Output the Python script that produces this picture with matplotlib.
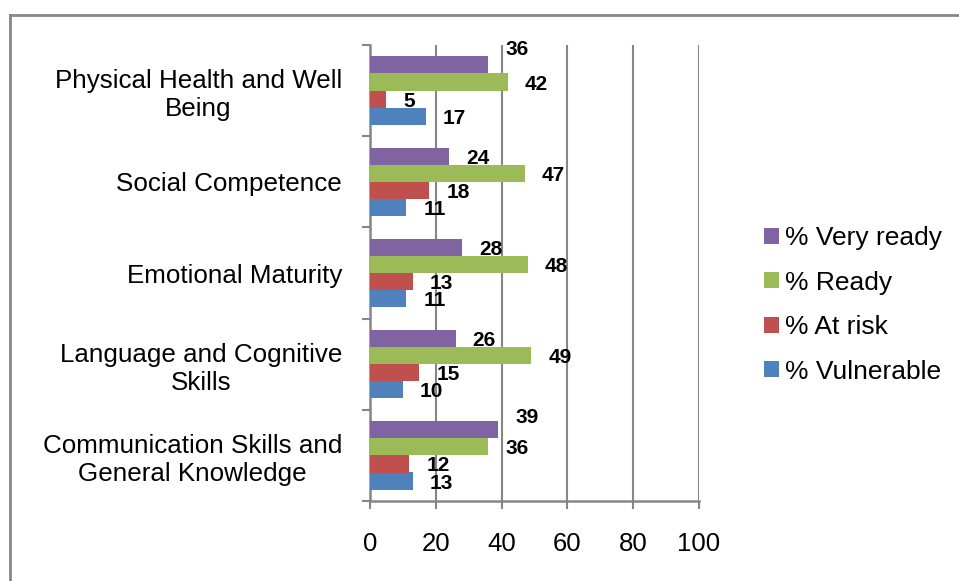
import matplotlib
matplotlib.use("Agg")
import matplotlib.pyplot as plt
from matplotlib.lines import Line2D
import numpy as np

plt.rcParams['font.family'] = ['Liberation Sans', 'DejaVu Sans']

# ---- data ----
categories = ["Communication Skills and\nGeneral Knowledge",
              "Language and Cognitive\nSkills",
              "Emotional Maturity",
              "Social Competence",
              "Physical Health and Well\nBeing"]
series_names = ["% Vulnerable", "% At risk", "% Ready", "% Very ready"]
vulnerable = [13, 10, 11, 11, 17]
at_risk = [12, 15, 13, 18, 5]
ready = [36, 49, 48, 47, 42]
very_ready = [39, 26, 28, 24, 36]
x_ticks = [0, 20, 40, 60, 80, 100]

# ---- style ----
colors = ["#4F81BD", "#C0504D", "#9BBB59", "#8064A2"]
# manual vertical nudges (pixels) for a couple of data labels, as in the reference
label_nudge = {(3, 4): 17, (3, 0): 14}

W, H = 959, 581
fig = plt.figure(figsize=(W / 100, H / 100), dpi=100)
ax = fig.add_axes([370 / W, 1 - 501 / H, 329 / W, 456 / H])

all_series = [vulnerable, at_risk, ready, very_ready]
bh = 0.1875
offsets = [-1.5 * bh, -0.5 * bh, 0.5 * bh, 1.5 * bh]
y = np.arange(len(categories))
handles = []
for si, (vals, col, off, name) in enumerate(zip(all_series, colors, offsets, series_names)):
    bars = ax.barh(y + off, vals, height=bh, color=col, label=name, zorder=3)
    handles.append(bars)
    for ci, v in enumerate(vals):
        dy = label_nudge.get((si, ci), 0) - 2
        ax.annotate(str(v), xy=(v, y[ci] + off), xytext=(12.2, dy * 0.72),
                    textcoords="offset points", ha="left", va="center",
                    fontsize=15, fontweight="bold", color="black", zorder=4)

ax.set_xlim(0, 100)
ax.set_ylim(-0.5, len(categories) - 0.5)
ax.set_xticks(x_ticks)
ax.set_xticklabels([str(t) for t in x_ticks], fontsize=18.5)
ax.xaxis.grid(True, color="#868686", linewidth=1.5, zorder=0)
ax.set_yticks(y)
ax.set_yticklabels(categories, fontsize=18.7, ha="right", multialignment="center")
ax.set_yticks(np.arange(-0.5, len(categories), 1.0), minor=True)
ax.tick_params(axis="y", which="major", length=0, pad=20)
ax.tick_params(axis="y", which="minor", length=6, width=1.5, color="#868686", direction="out")
ax.tick_params(axis="x", which="major", length=6, width=1.5, color="#868686", direction="out", pad=16)
for s in ["top", "right"]:
    ax.spines[s].set_visible(False)
for s in ["left", "bottom"]:
    ax.spines[s].set_color("#868686")
    ax.spines[s].set_linewidth(1.8)

leg_order = [3, 2, 1, 0]
leg = fig.legend([handles[i] for i in leg_order], [series_names[i] for i in leg_order],
                 loc="upper left", bbox_to_anchor=(764 / W, 1 - 226 / H),
                 frameon=False, fontsize=19, handlelength=0.55, handleheight=0.55,
                 handletextpad=0.25, labelspacing=0.78, borderaxespad=0, borderpad=0)

# outer border
fig.add_artist(Line2D([10 / W, 1], [1 - 15 / H, 1 - 15 / H], transform=fig.transFigure,
                      color="#888888", linewidth=2))
fig.add_artist(Line2D([10 / W, 10 / W], [0, 1 - 15 / H], transform=fig.transFigure,
                      color="#888888", linewidth=2))

fig.savefig("out.png", dpi=100)
